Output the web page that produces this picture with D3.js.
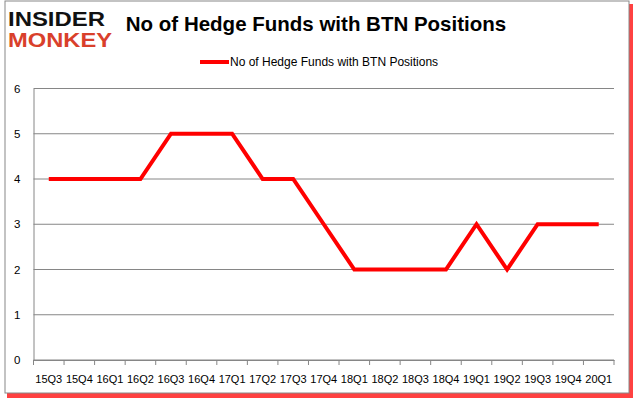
<!DOCTYPE html>
<html>
<head>
<meta charset="utf-8">
<script src="https://cdn.jsdelivr.net/npm/d3@7"></script>
<style>
  body { margin: 0; background: #fff; }
  text { font-family: "Liberation Sans", Arial, sans-serif; }
</style>
</head>
<body>
<div id="chart"></div>
<script>
/* DATA */
const quarters = ["15Q3","15Q4","16Q1","16Q2","16Q3","16Q4","17Q1","17Q2","17Q3","17Q4",
                  "18Q1","18Q2","18Q3","18Q4","19Q1","19Q2","19Q3","19Q4","20Q1"];
const funds = [4,4,4,4,5,5,5,4,4,3,2,2,2,2,3,2,3,3,3];
const yTicks = [0,1,2,3,4,5,6];
const seriesName = "No of Hedge Funds with BTN Positions";

/* CONSTANTS */
const width = 635, height = 405;
const margin = {left: 33.5, right: 21, top: 88.5, bottom: 45};

const svg = d3.select("#chart").append("svg")
  .attr("width", width)
  .attr("height", height);

// frame with red shadow
svg.append("rect").attr("x", 7).attr("y", 4).attr("width", 626).attr("height", 394)
  .attr("fill", "#ff2020").attr("opacity", 0.85);
svg.append("rect").attr("x", 5).attr("y", 1).attr("width", 624).attr("height", 392)
  .attr("fill", "#fff").attr("stroke", "#888").attr("stroke-width", 1);

/* SCALES */
const x = d3.scaleBand()
  .domain(quarters)
  .range([margin.left, width - margin.right]);

const y = d3.scaleLinear()
  .domain([0, 6])
  .range([height - margin.bottom, margin.top]);

// gridlines
svg.append("g")
  .selectAll("line")
  .data(yTicks)
  .join("line")
  .attr("x1", margin.left).attr("x2", width - margin.right)
  .attr("y1", d => y(d)).attr("y2", d => y(d))
  .attr("stroke", "#868686").attr("stroke-width", 1);

// y axis
const yAxis = svg.append("g")
  .attr("transform", `translate(${margin.left},0)`)
  .call(d3.axisLeft(y).tickValues(yTicks).tickFormat(d3.format("d")).tickSize(0).tickPadding(13));
yAxis.select(".domain").attr("stroke", "#868686");
yAxis.selectAll("text").attr("font-size", 11.5).attr("fill", "#000");

// x axis
const xAxis = svg.append("g")
  .attr("transform", `translate(0,${y(0)})`)
  .call(d3.axisBottom(x).tickSizeOuter(0).tickSize(0).tickPadding(15));
xAxis.select(".domain").attr("stroke", "#868686");
xAxis.selectAll("text").attr("font-size", 11).attr("fill", "#000");

// tick marks at band boundaries
svg.append("g")
  .selectAll("line")
  .data(quarters.concat(["end"]))
  .join("line")
  .attr("x1", (d, i) => i < quarters.length ? x(d) : x(quarters[quarters.length - 1]) + x.bandwidth())
  .attr("x2", (d, i) => i < quarters.length ? x(d) : x(quarters[quarters.length - 1]) + x.bandwidth())
  .attr("y1", y(0)).attr("y2", y(0) + 5)
  .attr("stroke", "#868686");

// line
const line = d3.line()
  .x((d, i) => x(quarters[i]) + x.bandwidth() / 2)
  .y(d => y(d));

svg.append("path")
  .datum(funds)
  .attr("d", line)
  .attr("fill", "none")
  .attr("stroke", "#ff0000")
  .attr("stroke-width", 4)
  .attr("stroke-linejoin", "miter");

// title
svg.append("text")
  .attr("x", 316).attr("y", 31)
  .attr("text-anchor", "middle")
  .attr("font-size", 20.5).attr("font-weight", "bold")
  .text("No of Hedge Funds with BTN Positions");

// legend
svg.append("line")
  .attr("x1", 200).attr("x2", 229).attr("y1", 62).attr("y2", 62)
  .attr("stroke", "#ff0000").attr("stroke-width", 4);
svg.append("text")
  .attr("x", 230).attr("y", 66)
  .attr("font-size", 12)
  .text(seriesName);

// logo
svg.append("text")
  .attr("x", 8).attr("y", 26)
  .attr("font-family", "DejaVu Sans").attr("font-weight", "bold")
  .attr("font-size", 21).attr("textLength", 97).attr("lengthAdjust", "spacingAndGlyphs")
  .attr("fill", "#111")
  .text("INSIDER");
svg.append("text")
  .attr("x", 8).attr("y", 47)
  .attr("font-family", "DejaVu Sans").attr("font-weight", "bold")
  .attr("font-size", 21).attr("textLength", 104).attr("lengthAdjust", "spacingAndGlyphs")
  .attr("fill", "#d9402b")
  .text("MONKEY");
</script>
</body>
</html>
